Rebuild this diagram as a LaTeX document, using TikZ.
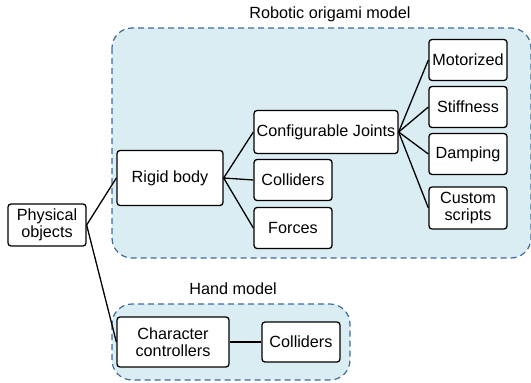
\documentclass[tikz,border=0pt]{standalone}
\usepackage{fontspec}
\setmainfont{Liberation Sans}
\definecolor{grpfill}{HTML}{DAEDF3}
\definecolor{grpline}{HTML}{3F6A9A}
\begin{document}
\begin{tikzpicture}[x=1pt,y=-1pt,
  box/.style={draw=black, line width=1.3pt, rounded corners=3pt, fill=white,
    inner sep=0pt, align=center, font=\fontsize{16.2}{17.5}\selectfont},
  group/.style={draw=grpline, fill=grpfill, line width=1.2pt, dash pattern=on 6pt off 4pt, rounded corners=20pt},
  lbl/.style={font=\fontsize{16.2}{17.5}\selectfont, inner sep=0pt},
  link/.style={line width=1.3pt, black}]
\useasboundingbox (0,0) rectangle (531,383);
% groups
\draw[group] (112,28) rectangle (531,258);
\draw[group] (112,304) rectangle (350,380);
\node[lbl] (t1) at (330,14) {Robotic origami model};
\node[lbl] (t2) at (233,289) {Hand model};
% nodes
\node[box, minimum width=78pt, minimum height=42pt] (phys) at (47,225) {Physical\\objects};
\node[box, minimum width=106pt, minimum height=55pt] (rigid) at (170,178) {Rigid body};
\node[box, minimum width=144pt, minimum height=43pt] (joints) at (326,132) {Configurable Joints};
\node[box, minimum width=78pt, minimum height=41pt] (coll) at (293,180) {Colliders};
\node[box, minimum width=78pt, minimum height=41pt] (forces) at (293,228) {Forces};
\node[box, minimum width=78pt, minimum height=41pt] (motor) at (468,60) {Motorized};
\node[box, minimum width=78pt, minimum height=41pt] (stiff) at (468,107) {Stiffness};
\node[box, minimum width=78pt, minimum height=41pt] (damp) at (468,154) {Damping};
\node[box, minimum width=78pt, minimum height=42pt] (custom) at (468,208) {Custom\\scripts};
\node[box, minimum width=112pt, minimum height=50pt] (charc) at (173,342) {Character\\controllers};
\node[box, minimum width=78pt, minimum height=40pt] (coll2) at (301,342) {Colliders};
% links
\draw[link] (phys.east) -- (rigid.west);
\draw[link] (phys.east) -- (charc.west);
\draw[link] (rigid.east) -- (joints.west);
\draw[link] (rigid.east) -- (coll.west);
\draw[link] (rigid.east) -- (forces.west);
\draw[link] (joints.east) -- (motor.west);
\draw[link] (joints.east) -- (stiff.west);
\draw[link] (joints.east) -- (damp.west);
\draw[link] (joints.east) -- (custom.west);
\draw[link] (charc.east) -- (coll2.west);
\end{tikzpicture}
\end{document}
